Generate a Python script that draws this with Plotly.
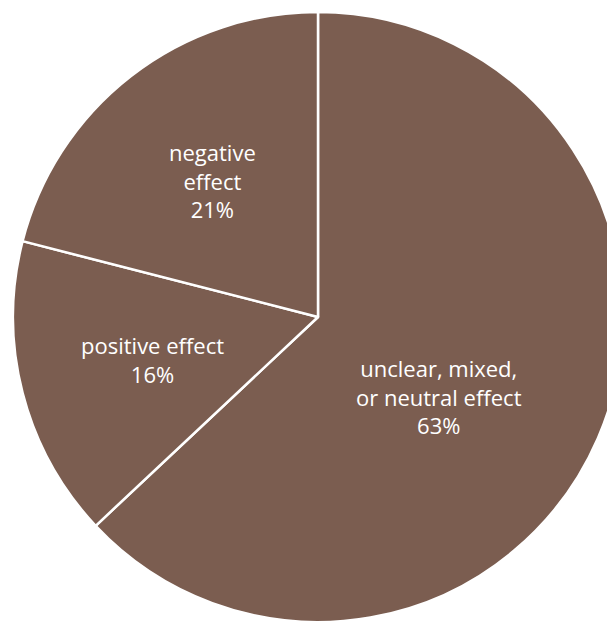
import math
import plotly.graph_objects as go

labels = ["unclear, mixed,<br>or neutral effect", "positive effect", "negative<br>effect"]
values = [63, 16, 21]
slice_color = "#7B5D50"

# label placement style: radial distance (fraction of radius) and angular nudge (deg)
label_rfrac = [0.475, 0.56, 0.565]
label_shift = [10.0, 0.0, 0.0]

# page body has an 8px margin; the figure is allowed to run past the right edge
OFF = 8
W, H = 623, 614
cx, cy, r = 318 - OFF, 317 - OFF, 305

fig = go.Figure(go.Pie(
    labels=labels,
    values=values,
    sort=False,
    direction="clockwise",
    rotation=0,
    marker=dict(colors=[slice_color] * 3, line=dict(color="white", width=2.5)),
    textinfo="none",
    hoverinfo="skip",
    showlegend=False,
    domain=dict(x=[(cx - r) / W, (cx + r) / W],
                y=[max(0.0, (H - cy - r) / H), min(1.0, (H - cy + r) / H)]),
))

total = sum(values)
cum = 0.0
for lab, v, rf, sh in zip(labels, values, label_rfrac, label_shift):
    mid = (cum + v / 2) / total * 360 + sh
    cum += v
    th = math.radians(mid)
    px = cx + rf * r * math.sin(th)
    py = cy - rf * r * math.cos(th)
    pct = round(v / total * 100)
    fig.add_annotation(
        x=px / W, y=(H - py) / H, xref="paper", yref="paper",
        text=f"{lab}<br>{pct}%", showarrow=False,
        xanchor="center", yanchor="middle", align="center",
        font=dict(family="Open Sans", size=22, color="white"),
    )

fig.update_layout(
    width=W, height=H,
    margin=dict(l=0, r=0, t=0, b=0),
    paper_bgcolor="white",
    plot_bgcolor="white",
)
fig.write_html("out.html")
